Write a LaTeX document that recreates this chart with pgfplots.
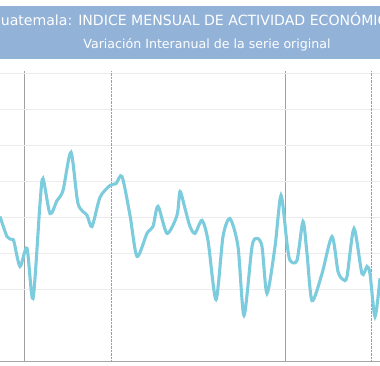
\documentclass[border=0pt]{standalone}
\usepackage{pgfplots}
\pgfplotsset{compat=1.18}
\usepackage{fontspec}
\setmainfont{DejaVu Sans}
\definecolor{headblue}{RGB}{146,178,216}
\definecolor{linecyan}{RGB}{125,204,222}
\begin{document}
\begin{tikzpicture}[x=1pt,y=1pt]
\useasboundingbox (0,0) rectangle (380,366);
\begin{scope}
\clip (0,0) rectangle (380,366);
\fill[headblue] (-5,307) rectangle (385,360);
\node[white,font=\fontsize{14.1}{16}\selectfont,anchor=base,inner sep=0pt] at (193.5,340) {Guatemala: INDICE MENSUAL DE ACTIVIDAD ECONÓMICA};
\node[white,font=\fontsize{12.6}{14}\selectfont,anchor=base,inner sep=0pt] at (207,317.5) {Variación Interanual de la serie original};
\end{scope}
\begin{axis}[
  at={(0,12.5)}, anchor=south west,
  scale only axis, width=380pt, height=290pt,
  xmin=0, xmax=380, ymin=0, ymax=8.056,
  axis x line*=bottom, axis y line*=left,
  x axis line style={gray!70, line width=1.2pt},
  y axis line style={draw=none},
  ytick={2,3,4,5,6,7,8}, yticklabels={},
  xtick={24,285}, xticklabels={},
  extra x ticks={111,371}, extra x tick labels={},
  extra x tick style={grid style={densely dotted, gray!55, line width=0.8pt}},
  major tick length=0pt,
  xmajorgrids, ymajorgrids,
  x grid style={gray!75, line width=0.9pt},
  y grid style={gray!15, line width=0.8pt},
  clip=true,
]
\addplot[linecyan, line width=3.1pt, smooth, tension=0.45] coordinates {
(0,4.03) (7,3.47) (12,3.39) (14,3.33) (20,2.64) (27,3.14) (33,1.75) (40,4.39)
(43,5.08) (50,4.11) (57,4.47) (63,4.75) (71,5.81) (78,4.39) (87,4.06) (92,3.75)
(100,4.56) (110,4.89) (116,4.94) (122,5.14) (130,4.06) (137,2.92) (147,3.56) (153,3.75)
(158,4.31) (167,3.56) (177,4.06) (180,4.72) (185,4.25) (190,3.75) (195,3.56) (202,3.92)
(208,3.36) (216,1.72) (223,3.47) (230,3.97) (238,3.19) (244,1.28) (252,3.19) (257,3.42)
(262,3.19) (267,1.89) (275,3.19) (281,4.61) (287,3.28) (290,2.81) (297,2.81) (303,3.89)
(307,3.0) (312,1.69) (322,2.44) (332,3.47) (338,2.5) (343,2.28) (347,2.36) (354,3.69)
(362,2.44) (367,2.64) (370,2.44) (375,1.25) (380,2.31)
};
\end{axis}
\end{tikzpicture}
\end{document}
